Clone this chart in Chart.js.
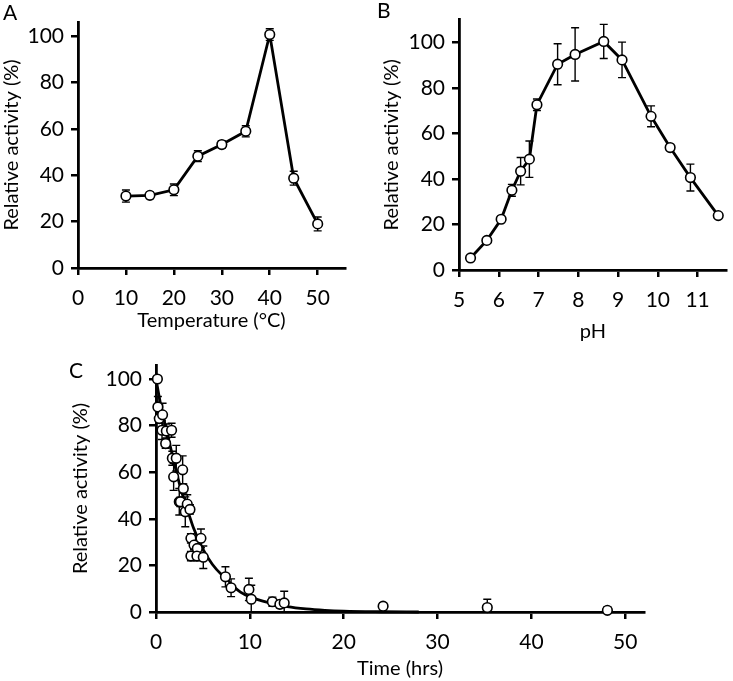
<!DOCTYPE html>
<html>
<head>
<meta charset="utf-8">
<script src="https://cdn.jsdelivr.net/npm/chart.js@4"></script>
<style>
  body { margin: 0; background: #fff; }
  #wrap { position: relative; width: 733px; height: 681px; overflow: hidden; }
  canvas { position: absolute; }
  .lbl { position: absolute; font-family: Lato, sans-serif; font-size: 21px; color: #000; line-height: 1; }
</style>
</head>
<body>
<div id="wrap">
  <canvas id="chartA" width="360" height="345" style="left:0;top:0"></canvas>
  <canvas id="chartB" width="373" height="345" style="left:360px;top:0"></canvas>
  <canvas id="chartC" width="733" height="336" style="left:0;top:345px"></canvas>
  <div class="lbl" style="left:3px;top:1px">A</div>
  <div class="lbl" style="left:377px;top:-1px">B</div>
  <div class="lbl" style="left:69px;top:359px">C</div>
</div>
<script>
// A - temperature
const tempX = [10, 15, 20, 25, 30, 35, 40, 45, 50];
const tempY = [31, 31.3, 33.7, 48.2, 53.2, 58.9, 100.6, 38.7, 19];
const tempErr = [2.6, 1.4, 2.5, 2.3, 1.5, 2.4, 2.5, 3, 3];

// B - pH
const phX = [5.29, 5.70, 6.06, 6.33, 6.55, 6.77, 6.96, 7.48, 7.92, 8.64, 9.10, 9.83, 10.31, 10.82, 11.52];
const phY = [5.3, 13, 22.3, 35, 43.4, 48.7, 72.6, 90.4, 94.7, 100.4, 92.3, 67.5, 53.8, 40.6, 23.9];
const phErr = [0.6, 0.8, 1, 2.6, 6, 8, 2.5, 9, 11.7, 7.5, 7.8, 4.6, 1, 5.9, 1];

// C - time course
const timeX = [0.15, 0.2, 0.35, 0.7, 0.64, 1.1, 1.66, 1.03, 1.74, 2.16, 1.88, 2.84, 2.91, 2.48, 2.6,
  3.12, 3.33, 3.62, 3.72, 4.79, 4.05, 4.4, 3.72, 4.36, 5.04, 7.4, 8.0, 9.9, 10.15, 12.4, 13.2, 13.66,
  24.2, 35.3, 48.1];
const timeY = [100, 88, 83, 84.6, 78, 77.7, 78, 72.3, 66, 66, 58, 61, 53, 47.3, 47.3,
  43, 46.3, 44, 31.6, 31.6, 28.7, 27.3, 24, 24, 23.5, 15.1, 10.4, 9.7, 5.5, 4.4, 3.3, 3.9,
  2.5, 1.9, 0.7];
const timeErr = [0, 4.5, 2, 5, 4, 3, 3, 2, 3, 5.5, 5.8, 6, 2, 5.7, 2,
  6.4, 4, 2, 2, 4, 2, 2, 2, 2, 4.8, 4.3, 3.8, 4.8, 6, 2, 1.5, 5,
  1.5, 3.6, 1.5];
// fitted curve
const fitX = [0, 0.5, 1, 2, 2.5, 3, 3.5, 4, 5, 6, 7, 7.5, 8, 9, 10, 12, 14, 16, 18, 20, 24, 28];
const fitY = [100, 89, 80, 63, 55, 48, 42, 36, 27, 20.5, 16, 14.5, 12, 8.5, 6.5, 4, 2.3, 1.3, 0.7, 0.35, 0.1, 0];

Chart.defaults.font.family = 'Lato, sans-serif';
Chart.defaults.font.size = 21;
Chart.defaults.color = '#000';

const errorBars = {
  id: 'errorBars',
  beforeDatasetsDraw(chart, args, opts) {
    if (!opts.errors) return;
    const meta = chart.getDatasetMeta(opts.datasetIndex);
    const ds = chart.data.datasets[opts.datasetIndex];
    const ys = chart.scales.y;
    const ctx = chart.ctx;
    const cap = opts.cap || 4;
    ctx.save();
    ctx.strokeStyle = '#000';
    ctx.lineWidth = 1.4;
    meta.data.forEach((pt, i) => {
      const e = opts.errors[i];
      if (!e) return;
      const v = ds.data[i].y;
      const top = ys.getPixelForValue(v + e);
      const bot = ys.getPixelForValue(Math.max(v - e, 0));
      ctx.beginPath();
      ctx.moveTo(pt.x, top); ctx.lineTo(pt.x, bot);
      ctx.moveTo(pt.x - cap, top); ctx.lineTo(pt.x + cap, top);
      ctx.moveTo(pt.x - cap, bot); ctx.lineTo(pt.x + cap, bot);
      ctx.stroke();
    });
    ctx.restore();
  }
};

function toPts(xs, ys) {
  return xs.map((x, i) => ({ x: x, y: ys[i] }));
}

function pointSet(xs, ys) {
  return {
    data: toPts(xs, ys),
    borderColor: '#000',
    borderWidth: 2.8,
    pointRadius: 4.8,
    pointBorderWidth: 1.6,
    pointBackgroundColor: '#fff',
    pointBorderColor: '#000',
    tension: 0,
    clip: false,
    order: 1
  };
}

function scaleOpts(cfg) {
  return {
    type: 'linear',
    min: cfg.min,
    max: cfg.max,
    afterFit: cfg.fit,
    border: { color: '#000', width: 2.8 },
    grid: { drawOnChartArea: false, drawTicks: true, tickLength: 7, color: '#000', lineWidth: 2.5 },
    ticks: { stepSize: cfg.step, includeBounds: false, padding: cfg.tickPad, color: '#000', maxRotation: 0 },
    title: { display: true, text: cfg.title, color: '#000', font: { size: 20 }, padding: cfg.titlePad }
  };
}

function makeChart(id, datasets, errs, padding, x, y) {
  return new Chart(document.getElementById(id), {
    type: 'line',
    data: { datasets: datasets },
    options: {
      responsive: false,
      animation: false,
      layout: { padding: padding },
      scales: { x: x, y: y },
      plugins: {
        legend: { display: false },
        tooltip: { enabled: false },
        errorBars: { datasetIndex: 0, errors: errs, cap: 4 }
      }
    },
    plugins: [errorBars]
  });
}

makeChart('chartA', [pointSet(tempX, tempY)], tempErr,
  { top: 22, right: 15, left: 0, bottom: 0 },
  scaleOpts({ min: 0, max: 55.7, step: 10, title: 'Temperature (°C)', tickPad: 11,
    titlePad: { top: 0, bottom: 12 }, fit: s => { s.height = 77; } }),
  scaleOpts({ min: 0, max: 106, step: 20, title: 'Relative activity (%)', tickPad: 7,
    titlePad: { top: 0, bottom: 0 }, fit: s => { s.width = 78; } })
);

makeChart('chartB', [pointSet(phX, phY)], phErr,
  { top: 16, right: 0, left: 0, bottom: 0 },
  scaleOpts({ min: 5, max: 11.73, step: 1, title: 'pH', tickPad: 11,
    titlePad: { top: 0, bottom: 1 }, fit: s => { s.height = 75; } }),
  scaleOpts({ min: 0, max: 110, step: 20, title: 'Relative activity (%)', tickPad: 7,
    titlePad: { top: 20, bottom: 0 }, fit: s => { s.width = 99; } })
);

const fitSet = {
  data: toPts(fitX, fitY),
  borderColor: '#000',
  borderWidth: 2.8,
  pointRadius: 0,
  cubicInterpolationMode: 'monotone',
  clip: false,
  order: 2
};
const timeSet = Object.assign(pointSet(timeX, timeY), { showLine: false });

makeChart('chartC', [timeSet, fitSet], timeErr,
  { top: 20, right: 89, left: 0, bottom: 0 },
  scaleOpts({ min: 0, max: 52, step: 10, title: 'Time (hrs)', tickPad: 11,
    titlePad: { top: 0, bottom: 0 }, fit: s => { s.height = 69; } }),
  scaleOpts({ min: 0, max: 106, step: 20, title: 'Relative activity (%)', tickPad: 7,
    titlePad: { top: 69, bottom: 0 }, fit: s => { s.width = 156; } })
);
</script>
</body>
</html>
